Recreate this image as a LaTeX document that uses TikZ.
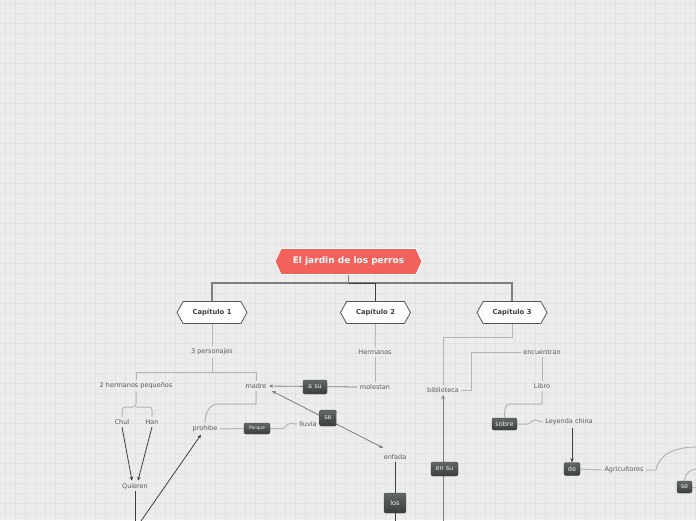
\documentclass[tikz,border=0pt]{standalone}
\usepackage{fontspec}
\setmainfont{DejaVu Sans}
\usetikzlibrary{shapes.symbols,arrows.meta}
\definecolor{bgc}{HTML}{ECECEC}
\definecolor{gridc}{HTML}{E2E2E2}
\definecolor{titlec}{HTML}{F2625B}
\definecolor{txtc}{HTML}{5A5A5A}
\definecolor{lightl}{HTML}{B4B4B4}
\definecolor{darkl}{HTML}{3E3E3E}
\definecolor{midl}{HTML}{7E7E7E}
\definecolor{capb}{HTML}{555555}
\definecolor{boxtop}{HTML}{626767}
\definecolor{boxbot}{HTML}{393D3D}
\tikzset{
  titlenode/.style={signal, signal to=west and east, signal pointer angle=130,
    fill=titlec, draw=white, line width=0.9pt, text=white,
    font=\bfseries\fontsize{9}{10}\selectfont, minimum width=147pt, minimum height=26pt, inner sep=0pt},
  capnode/.style={signal, signal to=west and east, signal pointer angle=122,
    fill=white, draw=capb, line width=0.8pt, text=black!75,
    font=\bfseries\fontsize{6.8}{8}\selectfont, minimum width=70pt, minimum height=22pt, inner sep=0pt},
  lbl/.style={text=txtc, font=\fontsize{6.5}{7.5}\selectfont, inner sep=2.5pt, outer sep=0pt, yshift=-1pt},
  darkbox/.style={rounded corners=2pt, top color=boxtop, bottom color=boxbot, draw=boxbot,
    text=white!94!black, font=\fontsize{6.5}{7.5}\selectfont, inner sep=1pt},
  lightline/.style={draw=lightl, line width=1pt},
  darkline/.style={draw=darkl, line width=0.8pt},
  midline/.style={draw=midl, line width=0.8pt},
  tip/.style={-{Stealth[length=4pt,width=3.5pt]}},
}
\begin{document}
\begin{tikzpicture}[x=1pt,y=-1pt]
\fill[bgc] (0,0) rectangle (696,520);
\useasboundingbox (0,0) rectangle (696,520);
\foreach \gx in {5,15,...,695} \draw[gridc,line width=0.6pt] (\gx,0) -- (\gx,520);
\foreach \gy in {3,13,...,519} \draw[gridc,line width=0.6pt] (0,\gy) -- (696,\gy);

% nodes
\node[titlenode] (t) at (348.5,261.5) {El jardin de los perros};
\node[capnode] (c1) at (212,312.5) {Capítulo 1};
\node[capnode] (c2) at (375.5,312.5) {Capítulo 2};
\node[capnode] (c3) at (512,312.5) {Capítulo 3};

\node[lbl] (p3) at (212,351) {3 personajes};
\node[lbl] (h2) at (136,385) {2 hermanos pequeños};
\node[lbl] (madre) at (256,385) {madre};
\node[lbl] (chul) at (122,421) {Chul};
\node[lbl] (han) at (152,421) {Han};
\node[lbl] (q) at (135,485) {Quieren};
\node[lbl] (prohibe) at (205,428) {prohibe};
\node[lbl] (lluvia) at (308,423) {lluvia};
\node[lbl] (herm) at (375,351) {Hermanos};
\node[lbl] (mol) at (375,386) {molestan};
\node[lbl] (enfada) at (395,456) {enfada};
\node[lbl] (bib) at (443,389) {biblioteca};
\node[lbl] (enc) at (542,351) {encuentran};
\node[lbl] (libro) at (542,385) {Libro};
\node[lbl] (ley) at (569,421) {Leyenda china};
\node[lbl] (agr) at (624,469) {Agricultores};

\coordinate (j) at (348.5,283);
\coordinate (b1) at (212,372);
\coordinate (b2) at (136,407);
\coordinate (qe) at (135,521);
\coordinate (pe) at (141,521);
\coordinate (le) at (395,521);
\coordinate (be) at (443,521);
\coordinate (ae) at (697,447);
\coordinate (sa) at (697,469);
\coordinate (sb) at (697,487);

% connectors from title
\draw[midl, line width=1.6pt] (t.south) -- (j) -| (c1.north);
\draw[midl, line width=1.6pt] (j) -| (c3.north);
\draw[darkl, line width=1pt] (j) -| (c2.north);

% capitulo 1
\draw[lightline] (c1.south) -- (p3.north);
\draw[lightline] (p3.south) -- (b1) -| (h2.north);
\draw[lightline] (b1) -| (madre.north);
\draw[lightline, rounded corners=3pt] (h2.south) -- (b2) -| (chul.north);
\draw[lightline, rounded corners=3pt] (b2) -| (han.north);
\draw[darkline, tip] (chul.south) -- ([xshift=-3pt]q.north);
\draw[darkline, tip] (han.south) -- ([xshift=3pt]q.north);
\draw[darkline] (q.south) -- (qe);
\draw[darkline, tip] (pe) -- ([xshift=-4pt]prohibe.south);
\draw[lightline] (madre.south) -- ++(0,13) -- ++(-38,0) to[out=180,in=90] (prohibe.north);
\node[darkbox, minimum width=26pt, minimum height=11pt, font=\fontsize{4.6}{5}\selectfont] (porque) at (257,428.5) {Porque};
\draw[lightline] (prohibe.east) -- (porque.west);
\draw[lightline] (porque.east) -- ++(12,0) .. controls +(4,0) and +(-4,0) .. ++(8,-5) -- (lluvia.west);

% capitulo 2
\draw[lightline] (c2.south) -- (herm.north);
\draw[lightline] (herm.south) -- (mol.north);
\draw[midline, tip] (mol.west) -- (madre.east);
\node[darkbox, minimum width=24pt, minimum height=14pt] (asu) at (315,387) {a su};
\draw[midline, {Stealth[length=4pt,width=3.5pt]}-{Stealth[length=4pt,width=3.5pt]}] ([xshift=3pt]madre.south east) -- ([xshift=2pt,yshift=4pt]enfada.north west);
\node[darkbox, minimum width=17pt, minimum height=16pt] (se1) at (328,418) {se};
\node[darkbox, minimum width=22pt, minimum height=20pt] (los) at (395,503) {los};
\draw[darkline] (enfada.south) -- (los.north);
\draw[darkline] (los.south) -- (le);

% capitulo 3
\draw[lightline] (c3.south) -- ++(0,14) -| (bib.north);
\draw[lightline] (bib.east) -- ++(10,0) |- (enc.west);
\draw[midline, tip] (be) -- (bib.south);
\node[darkbox, minimum width=27pt, minimum height=14pt] (ensu) at (444.5,469) {en su};
\draw[lightline] (enc.south) -- (libro.north);
\node[darkbox, minimum width=25pt, minimum height=12pt] (sobre) at (504.5,424) {sobre};
\draw[lightline] (libro.south) -- ++(0,13) -- ++(-32,0) to[out=180,in=90] (sobre.north);
\draw[lightline] (sobre.east) -- ++(10,0) .. controls +(4,0) and +(-4,0) .. ++(8,-4) -- (ley.west);
\node[darkbox, minimum width=16pt, minimum height=13pt] (de) at (572,469) {de};
\draw[darkline, tip] (de.north |- ley.south) -- (de.north);
\draw[lightline] (de.east) -- (agr.west);
\draw[lightline] (agr.east) -- ++(10,0) .. controls +(3,-16) and +(-22,0) .. (ae);
\node[darkbox, minimum width=15pt, minimum height=12pt] (se2) at (684.5,487) {se};
\draw[lightline] (se2.north) to[out=90,in=180] (sa);
\draw[lightline] (se2.east) -- (sb);
\end{tikzpicture}
\end{document}
